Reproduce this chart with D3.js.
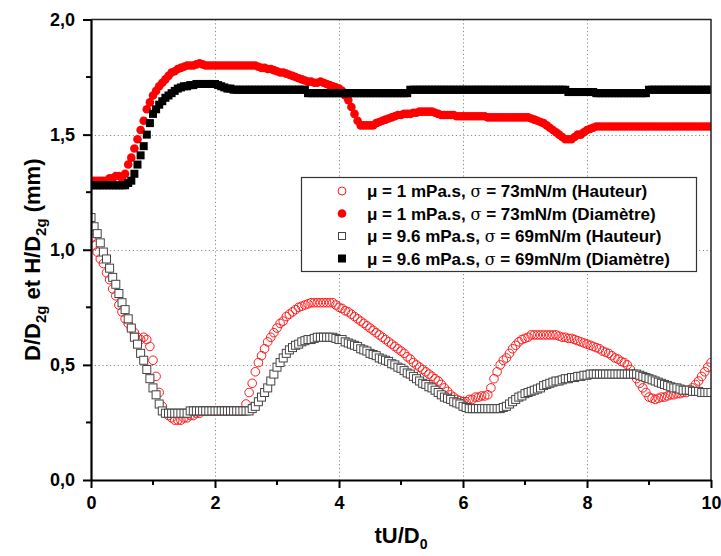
<!DOCTYPE html>
<html><head><meta charset="utf-8">
<script src="https://cdn.jsdelivr.net/npm/d3@7"></script>
<style>body{margin:0;background:#fff}svg{display:block}</style>
</head><body>
<script>
// sampling step of the time axis tU/D0 (0 .. 10)
const tStep = 0.05;

// μ = 1 mPa.s, σ = 73 mN/m (Hauteur) — open red circles
const hauteurEau = [
 1.05,1.02,0.99,0.96,0.94,0.90,0.87,0.83,0.80,0.76,0.73,0.70,0.68,0.66,0.64,0.62,0.61,0.62,0.61,0.58,
 0.52,0.45,0.38,0.32,0.29,0.28,0.27,0.26,0.26,0.26,0.27,0.27,0.28,0.28,0.29,0.29,0.30,0.30,0.30,0.30,
 0.30,0.30,0.30,0.30,0.30,0.30,0.30,0.30,0.30,0.30,0.33,0.38,0.42,0.47,0.51,0.54,0.57,0.60,0.62,0.64,
 0.66,0.68,0.69,0.71,0.72,0.73,0.74,0.75,0.755,0.76,0.765,0.77,0.77,0.77,0.77,0.77,0.77,0.77,0.77,0.76,
 0.75,0.745,0.735,0.73,0.72,0.71,0.70,0.69,0.68,0.67,0.66,0.65,0.64,0.63,0.62,0.61,0.60,0.59,0.58,0.57,
 0.56,0.55,0.535,0.525,0.51,0.50,0.49,0.48,0.47,0.46,0.45,0.44,0.43,0.415,0.40,0.385,0.37,0.36,0.35,0.345,
 0.34,0.34,0.35,0.35,0.36,0.36,0.365,0.365,0.37,0.40,0.44,0.47,0.50,0.52,0.53,0.55,0.57,0.585,0.60,0.61,
 0.615,0.62,0.63,0.63,0.63,0.63,0.63,0.63,0.63,0.63,0.63,0.625,0.62,0.62,0.615,0.615,0.61,0.605,0.60,0.595,
 0.59,0.585,0.58,0.575,0.57,0.56,0.555,0.55,0.54,0.53,0.525,0.515,0.51,0.50,0.48,0.46,0.44,0.42,0.40,0.38,
 0.36,0.355,0.35,0.355,0.36,0.36,0.365,0.37,0.37,0.375,0.375,0.38,0.38,0.39,0.40,0.415,0.43,0.45,0.47,0.49,
 0.51
];

// μ = 1 mPa.s, σ = 73 mN/m (Diamètre) — filled red circles
const diametreEau = [
 1.30,1.30,1.30,1.30,1.30,1.30,1.31,1.31,1.32,1.32,1.31,1.33,1.37,1.40,1.44,1.48,1.52,1.56,1.61,1.64,
 1.67,1.69,1.71,1.725,1.74,1.755,1.77,1.775,1.785,1.79,1.795,1.80,1.80,1.80,1.805,1.81,1.805,1.80,1.80,1.80,
 1.80,1.80,1.80,1.80,1.80,1.80,1.80,1.80,1.80,1.80,1.80,1.80,1.80,1.80,1.795,1.79,1.79,1.785,1.785,1.78,
 1.775,1.77,1.77,1.765,1.76,1.755,1.75,1.745,1.74,1.735,1.73,1.73,1.725,1.725,1.73,1.725,1.72,1.715,1.71,1.705,
 1.70,1.69,1.67,1.65,1.62,1.59,1.56,1.54,1.54,1.54,1.54,1.54,1.55,1.555,1.56,1.565,1.57,1.575,1.58,1.585,
 1.585,1.59,1.59,1.59,1.595,1.595,1.60,1.60,1.60,1.60,1.60,1.595,1.59,1.585,1.585,1.585,1.585,1.585,1.58,1.58,
 1.58,1.58,1.58,1.58,1.58,1.58,1.58,1.58,1.575,1.575,1.575,1.575,1.575,1.575,1.575,1.575,1.575,1.575,1.575,1.575,
 1.575,1.575,1.57,1.565,1.56,1.555,1.55,1.54,1.53,1.52,1.51,1.50,1.49,1.48,1.48,1.48,1.49,1.50,1.50,1.51,
 1.52,1.525,1.53,1.535,1.535,1.535,1.535,1.535,1.535,1.535,1.535,1.535,1.535,1.535,1.535,1.535,1.535,1.535,1.535,1.535,
 1.535,1.535,1.535,1.535,1.535,1.535,1.535,1.535,1.535,1.535,1.535,1.535,1.535,1.535,1.535,1.535,1.535,1.535,1.535,1.535,
 1.535
];

// μ = 9.6 mPa.s, σ = 69 mN/m (Hauteur) — open squares
const hauteurVisq = [
 1.14,1.10,1.07,1.03,0.99,0.96,0.92,0.88,0.85,0.81,0.77,0.74,0.70,0.66,0.62,0.59,0.55,0.52,0.48,0.44,
 0.40,0.37,0.33,0.30,0.29,0.29,0.29,0.29,0.29,0.29,0.29,0.29,0.30,0.30,0.30,0.30,0.30,0.30,0.30,0.30,
 0.30,0.30,0.30,0.30,0.30,0.30,0.30,0.30,0.30,0.30,0.30,0.30,0.31,0.32,0.34,0.36,0.38,0.40,0.43,0.46,
 0.49,0.51,0.53,0.55,0.565,0.575,0.585,0.59,0.60,0.605,0.61,0.61,0.615,0.62,0.62,0.62,0.62,0.62,0.62,0.615,
 0.61,0.61,0.60,0.595,0.59,0.585,0.58,0.57,0.565,0.56,0.55,0.545,0.54,0.53,0.525,0.52,0.515,0.505,0.50,0.49,
 0.485,0.475,0.465,0.46,0.45,0.44,0.43,0.42,0.415,0.405,0.40,0.39,0.38,0.37,0.36,0.355,0.35,0.34,0.335,0.33,
 0.32,0.315,0.31,0.31,0.31,0.31,0.31,0.31,0.31,0.31,0.31,0.31,0.31,0.315,0.32,0.33,0.34,0.35,0.36,0.365,
 0.375,0.38,0.385,0.39,0.395,0.40,0.41,0.415,0.42,0.425,0.43,0.43,0.435,0.44,0.44,0.445,0.445,0.45,0.45,0.455,
 0.455,0.46,0.46,0.46,0.46,0.46,0.46,0.46,0.46,0.46,0.46,0.46,0.46,0.46,0.46,0.46,0.46,0.455,0.45,0.445,
 0.44,0.435,0.43,0.425,0.42,0.415,0.41,0.405,0.40,0.40,0.395,0.39,0.39,0.39,0.385,0.385,0.385,0.38,0.38,0.38,
 0.38
];

// μ = 9.6 mPa.s, σ = 69 mN/m (Diamètre) — filled black squares
const diametreVisq = [
 1.28,1.28,1.28,1.28,1.28,1.28,1.28,1.28,1.28,1.28,1.28,1.28,1.29,1.30,1.33,1.37,1.41,1.45,1.50,1.55,
 1.59,1.61,1.63,1.645,1.66,1.67,1.68,1.69,1.70,1.705,1.71,1.71,1.715,1.715,1.72,1.72,1.72,1.72,1.72,1.72,
 1.72,1.715,1.71,1.705,1.70,1.70,1.695,1.695,1.695,1.695,1.695,1.695,1.695,1.695,1.695,1.695,1.695,1.695,1.695,1.695,
 1.695,1.695,1.695,1.695,1.695,1.695,1.695,1.695,1.695,1.695,1.68,1.68,1.68,1.68,1.68,1.68,1.68,1.68,1.68,1.68,
 1.68,1.68,1.68,1.68,1.68,1.68,1.68,1.68,1.68,1.68,1.68,1.68,1.68,1.68,1.68,1.68,1.68,1.68,1.68,1.68,
 1.68,1.68,1.68,1.695,1.695,1.695,1.695,1.695,1.695,1.695,1.695,1.695,1.695,1.695,1.695,1.695,1.695,1.695,1.695,1.695,
 1.695,1.695,1.695,1.695,1.695,1.695,1.695,1.695,1.695,1.695,1.695,1.695,1.695,1.695,1.695,1.695,1.695,1.695,1.695,1.695,
 1.695,1.695,1.695,1.695,1.695,1.695,1.695,1.695,1.695,1.695,1.695,1.695,1.695,1.695,1.685,1.685,1.685,1.685,1.685,1.685,
 1.685,1.685,1.685,1.68,1.68,1.68,1.68,1.68,1.68,1.68,1.68,1.68,1.68,1.68,1.68,1.68,1.68,1.68,1.68,1.68,
 1.695,1.695,1.695,1.695,1.695,1.695,1.695,1.695,1.695,1.695,1.695,1.695,1.695,1.695,1.695,1.695,1.695,1.695,1.695,1.695,
 1.695
];

const xTicks = [0, 2, 4, 6, 8, 10];
const xMinor = [1, 3, 5, 7, 9];
const yTicks = [0, 0.5, 1.0, 1.5, 2.0];
const yMinor = [0.25, 0.75, 1.25, 1.75];
const legendLabels = [
  ["μ = 1 mPa.s, ", "σ", " = 73mN/m (Hauteur)"],
  ["μ = 1 mPa.s, ", "σ", " = 73mN/m (Diamètre)"],
  ["μ = 9.6 mPa.s, ", "σ", " = 69mN/m (Hauteur)"],
  ["μ = 9.6 mPa.s, ", "σ", " = 69mN/m (Diamètre)"]
];

const W = 721, H = 556;
const L = 91, R = 711, T = 19.5, B = 480;
const FONT = "'Liberation Sans', Arial, Helvetica, sans-serif";

const svg = d3.select("body").append("svg").attr("width", W).attr("height", H)
  .style("font-family", FONT);

const x = d3.scaleLinear().domain([0, 10]).range([L, R]);
const y = d3.scaleLinear().domain([0, 2]).range([B, T]);

// grid
const grid = svg.append("g").attr("stroke", "#8a8a8a").attr("stroke-width", 1)
  .attr("stroke-dasharray", "1.2,2.6");
grid.selectAll("line.gx").data(xTicks.filter(d => d > 0 && d < 10)).join("line")
  .attr("x1", d => Math.round(x(d)) + 0.5).attr("x2", d => Math.round(x(d)) + 0.5)
  .attr("y1", T).attr("y2", B);
grid.selectAll("line.gy").data(yTicks.filter(d => d > 0 && d < 2)).join("line")
  .attr("y1", d => Math.round(y(d)) + 0.5).attr("y2", d => Math.round(y(d)) + 0.5)
  .attr("x1", L).attr("x2", R);

// clip
svg.append("defs").append("clipPath").attr("id", "clip")
  .append("rect").attr("x", L).attr("y", T).attr("width", R - L).attr("height", B - T);

const toPts = arr => arr.map((v, i) => ({t: i * tStep, v}));
const plot = svg.append("g").attr("clip-path", "url(#clip)");

const rC = 4.3, sq = 8;
// open red circles
plot.append("g").selectAll("circle").data(toPts(hauteurEau)).join("circle")
  .attr("cx", d => x(d.t)).attr("cy", d => y(d.v)).attr("r", rC)
  .attr("fill", "none").attr("stroke", "#ff1a1a").attr("stroke-width", 1);
// filled red circles
plot.append("g").selectAll("circle").data(toPts(diametreEau)).join("circle")
  .attr("cx", d => x(d.t)).attr("cy", d => y(d.v)).attr("r", rC)
  .attr("fill", "#ff0000");
// open squares
plot.append("g").selectAll("rect").data(toPts(hauteurVisq)).join("rect")
  .attr("x", d => x(d.t) - sq / 2).attr("y", d => y(d.v) - sq / 2)
  .attr("width", sq).attr("height", sq)
  .attr("fill", "#fff").attr("stroke", "#444").attr("stroke-width", 1);
// filled black squares
plot.append("g").selectAll("rect").data(toPts(diametreVisq)).join("rect")
  .attr("x", d => x(d.t) - sq / 2).attr("y", d => y(d.v) - sq / 2)
  .attr("width", sq).attr("height", sq).attr("fill", "#000");

// frame top/right
svg.append("line").attr("x1", L).attr("x2", R + 0.5).attr("y1", T).attr("y2", T)
  .attr("stroke", "#222").attr("stroke-width", 1.5);
svg.append("line").attr("x1", R).attr("x2", R).attr("y1", T).attr("y2", B)
  .attr("stroke", "#222").attr("stroke-width", 1.5);

// axes
const commaFmt = d => d3.format(".1f")(d).replace(".", ",");
const xAxis = svg.append("g").attr("transform", `translate(0,${B})`)
  .call(d3.axisBottom(x).tickValues(xTicks).tickFormat(d3.format("d"))
    .tickSizeInner(8).tickSizeOuter(0).tickPadding(8));
const yAxis = svg.append("g").attr("transform", `translate(${L},0)`)
  .call(d3.axisLeft(y).tickValues(yTicks).tickFormat(commaFmt)
    .tickSizeInner(8).tickSizeOuter(0).tickPadding(8));
[xAxis, yAxis].forEach(g => {
  g.select(".domain").attr("stroke", "#000").attr("stroke-width", 2.2);
  g.selectAll(".tick line").attr("stroke", "#000").attr("stroke-width", 2);
  g.selectAll(".tick text").attr("font-family", FONT).attr("font-size", 18)
    .attr("font-weight", "bold").attr("fill", "#000");
});
xAxis.selectAll("line.minor").data(xMinor).join("line").attr("class", "minor")
  .attr("x1", d => x(d)).attr("x2", d => x(d)).attr("y1", 0).attr("y2", 5)
  .attr("stroke", "#000").attr("stroke-width", 2);
yAxis.selectAll("line.minor").data(yMinor).join("line").attr("class", "minor")
  .attr("y1", d => y(d)).attr("y2", d => y(d)).attr("x1", 0).attr("x2", -5)
  .attr("stroke", "#000").attr("stroke-width", 2);

// axis titles
const xt = svg.append("text").attr("x", (L + R) / 2).attr("y", 543)
  .attr("text-anchor", "middle").attr("font-size", 22).attr("font-weight", "bold");
xt.append("tspan").text("tU/D");
xt.append("tspan").attr("font-size", 14).attr("dy", 6).text("0");

const yt = svg.append("text").attr("transform", `translate(40,${(T + B) / 2 + 10}) rotate(-90)`)
  .attr("text-anchor", "middle").attr("font-size", 22).attr("font-weight", "bold");
yt.append("tspan").text("D/D");
yt.append("tspan").attr("font-size", 15).attr("dy", 6).text("2g");
yt.append("tspan").attr("dy", -6).text(" et H/D");
yt.append("tspan").attr("font-size", 15).attr("dy", 6).text("2g");
yt.append("tspan").attr("dy", -6).text(" (mm)");

// legend
const lg = svg.append("g");
lg.append("rect").attr("x", 301.5).attr("y", 177.5).attr("width", 395).attr("height", 94)
  .attr("fill", "#fff").attr("stroke", "#333").attr("stroke-width", 1.2);
const rowY = [191, 213.5, 236, 258.5];
const mx = 342;
lg.append("circle").attr("cx", mx).attr("cy", rowY[0]).attr("r", 4)
  .attr("fill", "none").attr("stroke", "#ff1a1a").attr("stroke-width", 1);
lg.append("circle").attr("cx", mx).attr("cy", rowY[1]).attr("r", 4.3).attr("fill", "#ff0000");
lg.append("rect").attr("x", mx - 3.5).attr("y", rowY[2] - 3.5).attr("width", 7).attr("height", 7)
  .attr("fill", "#fff").attr("stroke", "#444").attr("stroke-width", 1);
lg.append("rect").attr("x", mx - 4).attr("y", rowY[3] - 4).attr("width", 8).attr("height", 8)
  .attr("fill", "#000");
legendLabels.forEach((parts, i) => {
  const t = lg.append("text").attr("x", 367).attr("y", rowY[i] + 6)
    .attr("font-size", 17).attr("font-weight", "bold").attr("fill", "#000");
  t.append("tspan").text(parts[0]);
  t.append("tspan").attr("font-weight", "normal").attr("font-family", "'DejaVu Serif', serif").attr("font-size", 16).text(parts[1]);
  t.append("tspan").text(parts[2]);
});
</script>
</body></html>
